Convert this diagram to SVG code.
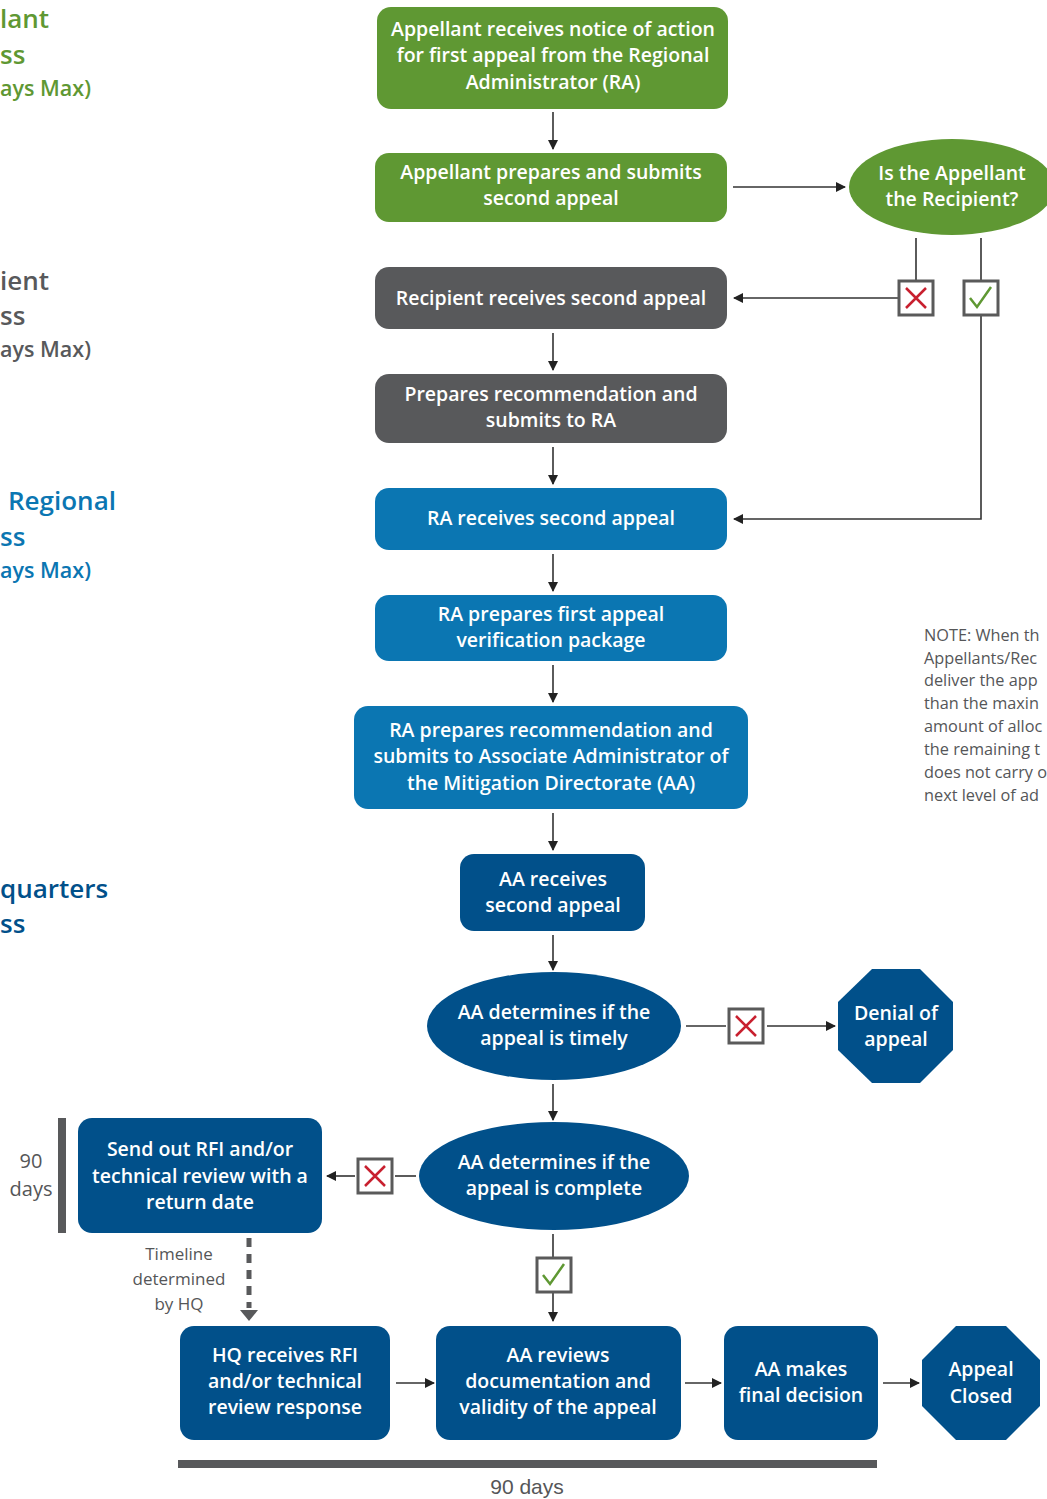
<svg xmlns="http://www.w3.org/2000/svg" width="1047" height="1499" viewBox="0 0 1047 1499">
<defs>
<style>
.t{font-family:"Open Sans","Liberation Sans",Arial,sans-serif;font-weight:600;font-size:19.5px;fill:#fff;text-anchor:middle}
.lbl{font-family:"Open Sans","Liberation Sans",Arial,sans-serif;font-weight:600;font-size:21.5px}
.big{font-size:26px}
.note{font-family:"Open Sans","Liberation Sans",Arial,sans-serif;font-size:16.3px;fill:#555658}
.sm{font-family:"Open Sans","Liberation Sans",Arial,sans-serif;font-weight:500;fill:#555658;text-anchor:middle}
.g{fill:#5f9833}
.gr{fill:#58595b}
.b{fill:#0b76b2}
.n{fill:#01508a}
.ln{stroke:#333;stroke-width:1.6;fill:none}
.bx{fill:#fff;stroke:#5a5a5a;stroke-width:3}
.x{stroke:#c8202f;stroke-width:2.5;fill:none}
.ck{stroke:#5f9833;stroke-width:2.5;fill:none}
</style>
<marker id="ah" viewBox="0 0 10 10" refX="9" refY="5" markerWidth="10" markerHeight="10" markerUnits="userSpaceOnUse" orient="auto">
<path d="M0,0 L10,5 L0,10 z" fill="#222"/>
</marker>
</defs>
<rect width="1047" height="1499" fill="#fff"/>

<g id="lane-labels">
<text class="lbl big g" x="0" y="28">lant</text>
<text class="lbl big g" x="0" y="64">ss</text>
<text class="lbl g" x="0" y="96">ays Max)</text>
<text class="lbl big gr" x="0" y="290">ient</text>
<text class="lbl big gr" x="0" y="325">ss</text>
<text class="lbl gr" x="0" y="357">ays Max)</text>
<text class="lbl big b" x="8" y="510">Regional</text>
<text class="lbl big b" x="0" y="546">ss</text>
<text class="lbl b" x="0" y="578">ays Max)</text>
<text class="lbl big n" x="0" y="898">quarters</text>
<text class="lbl big n" x="0" y="933">ss</text>
</g>

<g id="note">
<text class="note" x="924" y="641">NOTE: When th</text>
<text class="note" x="924" y="664">Appellants/Rec</text>
<text class="note" x="924" y="686">deliver the app</text>
<text class="note" x="924" y="709">than the maxin</text>
<text class="note" x="924" y="732">amount of alloc</text>
<text class="note" x="924" y="755">the remaining t</text>
<text class="note" x="924" y="778">does not carry o</text>
<text class="note" x="924" y="801">next level of ad</text>
</g>

<g id="connectors">
<line class="ln" x1="553" y1="112" x2="553" y2="149" marker-end="url(#ah)"/>
<line class="ln" x1="733" y1="187" x2="845" y2="187" marker-end="url(#ah)"/>
<line class="ln" x1="916" y1="238" x2="916" y2="281"/>
<line class="ln" x1="981" y1="238" x2="981" y2="281"/>
<line class="ln" x1="898" y1="298" x2="734" y2="298" marker-end="url(#ah)"/>
<line class="ln" x1="553" y1="333" x2="553" y2="370" marker-end="url(#ah)"/>
<line class="ln" x1="553" y1="447" x2="553" y2="484" marker-end="url(#ah)"/>
<polyline class="ln" points="981,316 981,519 734,519" marker-end="url(#ah)"/>
<line class="ln" x1="553" y1="554" x2="553" y2="591" marker-end="url(#ah)"/>
<line class="ln" x1="553" y1="665" x2="553" y2="702" marker-end="url(#ah)"/>
<line class="ln" x1="553" y1="813" x2="553" y2="850" marker-end="url(#ah)"/>
<line class="ln" x1="553" y1="935" x2="553" y2="970" marker-end="url(#ah)"/>
<line class="ln" x1="686" y1="1026" x2="726" y2="1026"/>
<line class="ln" x1="767" y1="1026" x2="835" y2="1026" marker-end="url(#ah)"/>
<line class="ln" x1="553" y1="1084" x2="553" y2="1120" marker-end="url(#ah)"/>
<line class="ln" x1="416" y1="1176" x2="395" y2="1176"/>
<line class="ln" x1="355" y1="1176" x2="327" y2="1176" marker-end="url(#ah)"/>
<line x1="249" y1="1238" x2="249" y2="1308" stroke="#58595b" stroke-width="5" stroke-dasharray="9,7"/>
<path d="M240,1310 L258,1310 L249,1321 z" fill="#58595b"/>
<line class="ln" x1="553" y1="1234" x2="553" y2="1257"/>
<line class="ln" x1="553" y1="1293" x2="553" y2="1321" marker-end="url(#ah)"/>
<line class="ln" x1="396" y1="1383" x2="434" y2="1383" marker-end="url(#ah)"/>
<line class="ln" x1="685" y1="1383" x2="721" y2="1383" marker-end="url(#ah)"/>
<line class="ln" x1="883" y1="1383" x2="919" y2="1383" marker-end="url(#ah)"/>
</g>

<g id="mark-no-1"><rect class="bx" x="899" y="281" width="34" height="34"/><path class="x" d="M906,288 L926,308 M926,288 L906,308"/></g>
<g id="mark-yes-1"><rect class="bx" x="964" y="281" width="34" height="34"/><path class="ck" d="M970,298 L977,307 L991,287"/></g>
<g id="mark-no-2"><rect class="bx" x="729" y="1009" width="34" height="34"/><path class="x" d="M736,1016 L756,1036 M756,1016 L736,1036"/></g>
<g id="mark-no-3"><rect class="bx" x="358" y="1159" width="34" height="34"/><path class="x" d="M365,1166 L385,1186 M385,1166 L365,1186"/></g>
<g id="mark-yes-2"><rect class="bx" x="537" y="1258" width="34" height="34"/><path class="ck" d="M543,1275 L550,1284 L564,1264"/></g>

<g id="n1"><rect class="g" x="377" y="7" width="351" height="102" rx="14"/>
<text class="t" x="553" y="36">Appellant receives notice of action</text>
<text class="t" x="553" y="62">for first appeal from the Regional</text>
<text class="t" x="553" y="89">Administrator (RA)</text></g>

<g id="n2"><rect class="g" x="375" y="153" width="352" height="69" rx="14"/>
<text class="t" x="551" y="179">Appellant prepares and submits</text>
<text class="t" x="551" y="205">second appeal</text></g>

<g id="d1"><ellipse class="g" cx="952" cy="187" rx="103" ry="48"/>
<text class="t" x="952" y="180">Is the Appellant</text>
<text class="t" x="952" y="206">the Recipient?</text></g>

<g id="n3"><rect class="gr" x="375" y="267" width="352" height="62" rx="14"/>
<text class="t" x="551" y="305">Recipient receives second appeal</text></g>

<g id="n4"><rect class="gr" x="375" y="374" width="352" height="69" rx="14"/>
<text class="t" x="551" y="401">Prepares recommendation and</text>
<text class="t" x="551" y="427">submits to RA</text></g>

<g id="n5"><rect class="b" x="375" y="488" width="352" height="62" rx="14"/>
<text class="t" x="551" y="525">RA receives second appeal</text></g>

<g id="n6"><rect class="b" x="375" y="595" width="352" height="66" rx="14"/>
<text class="t" x="551" y="621">RA prepares first appeal</text>
<text class="t" x="551" y="647">verification package</text></g>

<g id="n7"><rect class="b" x="354" y="706" width="394" height="103" rx="14"/>
<text class="t" x="551" y="737">RA prepares recommendation and</text>
<text class="t" x="551" y="763">submits to Associate Administrator of</text>
<text class="t" x="551" y="790">the Mitigation Directorate (AA)</text></g>

<g id="n8"><rect class="n" x="460" y="854" width="185" height="77" rx="14"/>
<text class="t" x="553" y="886">AA receives</text>
<text class="t" x="553" y="912">second appeal</text></g>

<g id="d2"><ellipse class="n" cx="554" cy="1026" rx="127" ry="54"/>
<text class="t" x="554" y="1019">AA determines if the</text>
<text class="t" x="554" y="1045">appeal is timely</text></g>

<g id="end1"><polygon class="n" points="872,969 920,969 953,1002 953,1050 920,1083 872,1083 838,1050 838,1002"/>
<text class="t" x="896" y="1020">Denial of</text>
<text class="t" x="896" y="1046">appeal</text></g>

<g id="d3"><ellipse class="n" cx="554" cy="1176" rx="135" ry="54"/>
<text class="t" x="554" y="1169">AA determines if the</text>
<text class="t" x="554" y="1195">appeal is complete</text></g>

<g id="n9"><rect class="n" x="78" y="1118" width="244" height="115" rx="14"/>
<text class="t" x="200" y="1156">Send out RFI and/or</text>
<text class="t" x="200" y="1183">technical review with a</text>
<text class="t" x="200" y="1209">return date</text></g>

<g id="timeline-left">
<rect x="58" y="1118" width="8" height="115" fill="#58595b"/>
<text class="sm" x="31" y="1168" font-size="20">90</text>
<text class="sm" x="31" y="1196" font-size="20">days</text>
</g>

<g id="timeline-note">
<text class="sm" x="179" y="1260" font-size="17">Timeline</text>
<text class="sm" x="179" y="1285" font-size="17">determined</text>
<text class="sm" x="179" y="1310" font-size="17">by HQ</text>
</g>

<g id="n10"><rect class="n" x="180" y="1326" width="210" height="114" rx="14"/>
<text class="t" x="285" y="1362">HQ receives RFI</text>
<text class="t" x="285" y="1388">and/or technical</text>
<text class="t" x="285" y="1414">review response</text></g>

<g id="n11"><rect class="n" x="436" y="1326" width="245" height="114" rx="14"/>
<text class="t" x="558" y="1362">AA reviews</text>
<text class="t" x="558" y="1388">documentation and</text>
<text class="t" x="558" y="1414">validity of the appeal</text></g>

<g id="n12"><rect class="n" x="724" y="1326" width="154" height="114" rx="14"/>
<text class="t" x="801" y="1376">AA makes</text>
<text class="t" x="801" y="1402">final decision</text></g>

<g id="end2"><polygon class="n" points="956,1326 1006,1326 1040,1360 1040,1406 1006,1440 956,1440 922,1406 922,1360"/>
<text class="t" x="981" y="1376">Appeal</text>
<text class="t" x="981" y="1403">Closed</text></g>

<g id="timeline-bottom">
<rect x="178" y="1460" width="699" height="8" fill="#58595b"/>
<text x="527" y="1494" font-family="Liberation Sans Narrow, Liberation Sans, Arial, sans-serif" font-size="21" fill="#555658" text-anchor="middle">90 days</text>
</g>
</svg>
